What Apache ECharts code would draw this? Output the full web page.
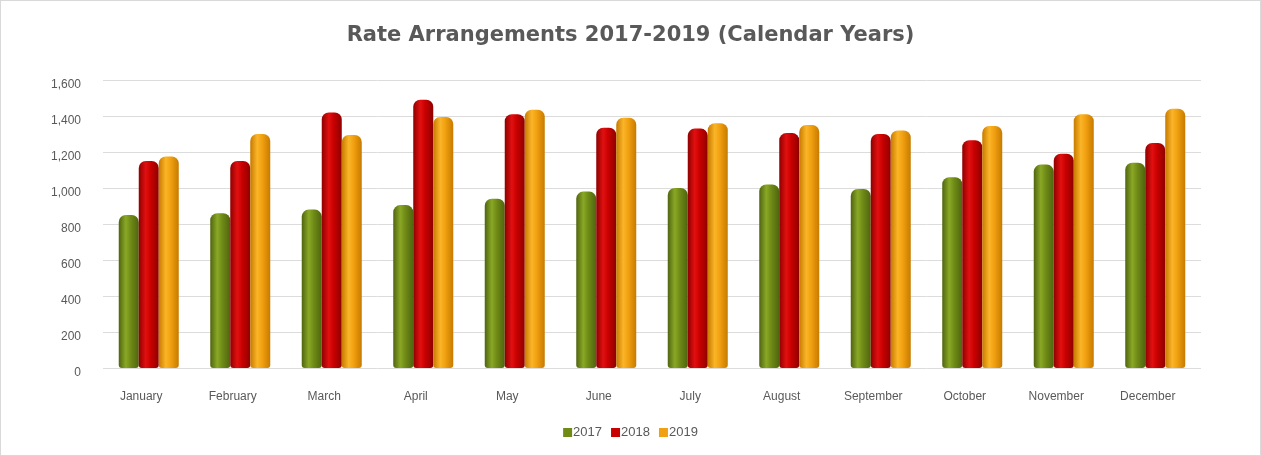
<!DOCTYPE html>
<html>
<head>
<meta charset="utf-8">
<script src="https://cdn.jsdelivr.net/npm/echarts@6/dist/echarts.min.js"></script>
<style>
html,body{margin:0;padding:0;background:#fff;}
#chart{width:1261px;height:456px;box-sizing:border-box;border:1px solid #d9d9d9;}
</style>
</head>
<body>
<div id="chart"></div>
<script>
const categories = ["January","February","March","April","May","June","July","August","September","October","November","December"];
const seriesNames = ["2017","2018","2019"];
const values2017 = [850, 860, 880, 905, 940, 980, 1000, 1020, 995, 1060, 1130, 1140];
const values2018 = [1150, 1150, 1420, 1490, 1410, 1335, 1330, 1305, 1300, 1265, 1190, 1250];
const values2019 = [1175, 1300, 1295, 1395, 1435, 1390, 1360, 1350, 1320, 1345, 1410, 1440];
const yTicks = [0, 200, 400, 600, 800, 1000, 1200, 1400, 1600];

function cyl(dark, mid, light) {
  return new echarts.graphic.LinearGradient(0, 0, 1, 0, [
    {offset: 0, color: dark},
    {offset: 0.35, color: light},
    {offset: 0.6, color: mid},
    {offset: 1, color: dark}
  ]);
}
const styles = [
  cyl('#4f6410', '#6f8b16', '#8aa826'),
  cyl('#8e0000', '#c80000', '#e21010'),
  cyl('#c77a00', '#f0a010', '#fbb528')
];
const legendColors = ['#6f8b16', '#c80000', '#f0a010'];
const allValues = [values2017, values2018, values2019];

const chart = echarts.init(document.getElementById('chart'), null, {renderer: 'canvas'});
chart.setOption({
  animation: false,
  title: {
    text: 'Rate Arrangements 2017-2019 (Calendar Years)',
    left: 'center',
    top: 19,
    textStyle: {fontFamily: 'DejaVu Sans', fontWeight: 'bold', fontSize: 21, color: '#595959'}
  },
  legend: {
    bottom: 11,
    left: 'center',
    itemWidth: 9,
    itemHeight: 9,
    itemGap: 9,
    icon: 'rect',
    textStyle: {fontFamily: 'Liberation Sans', fontSize: 13, color: '#595959', padding: [0,0,0,-4]},
    data: seriesNames.map((n, i) => ({name: n, itemStyle: {color: legendColors[i]}}))
  },
  grid: {left: 102, right: 59, top: 79, bottom: 87, containLabel: false},
  xAxis: {
    type: 'category',
    data: categories,
    axisLine: {show: false},
    axisTick: {show: false},
    axisLabel: {fontFamily: 'Liberation Sans', fontSize: 12, color: '#595959', margin: 23, padding: [0, 15, 0, 0]}
  },
  yAxis: {
    type: 'value',
    min: yTicks[0],
    max: yTicks[yTicks.length - 1],
    interval: 200,
    axisLine: {show: false},
    axisTick: {show: false},
    axisLabel: {
      fontFamily: 'Liberation Sans', fontSize: 12, color: '#595959', margin: 22,
      verticalAlign: 'top',
      padding: [-1, 0, 0, 0],
      formatter: v => v.toLocaleString('en-US')
    },
    splitLine: {lineStyle: {color: '#dcdcdc', width: 1}}
  },
  series: allValues.map((vals, i) => ({
    name: seriesNames[i],
    type: 'bar',
    data: vals,
    barWidth: 20,
    barGap: '0%',
    itemStyle: {color: styles[i], borderRadius: [7, 7, 3, 3]}
  }))
});
</script>
</body>
</html>
